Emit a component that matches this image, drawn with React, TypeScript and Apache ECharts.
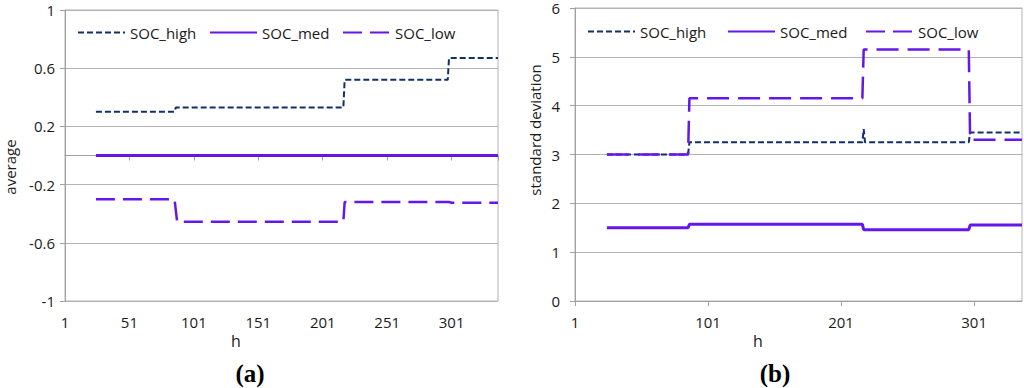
import React, { useEffect, useRef } from "react";
import * as echarts from "echarts";

// Series names (legend)
const seriesNames = ["SOC_high", "SOC_med", "SOC_low"];

// Panel (a): average, points as [h, value]
const avgHigh = [[25, 0.3], [86, 0.3], [87, 0.33], [217, 0.33], [218, 0.52], [298, 0.52], [299, 0.67], [337, 0.67]];
const avgMed = [[25, 0], [337, 0]];
const avgLow = [[25, -0.3], [86, -0.3], [88, -0.455], [217, -0.455], [218, -0.32], [299, -0.32], [301, -0.325], [337, -0.325]];

// Panel (b): standard deviation, points as [h, value]
const sdHigh = [[25, 3.0], [86, 3.0], [87, 3.25], [217, 3.25], [218, 3.52], [219, 3.25], [297, 3.25], [298, 3.45], [337, 3.45]];
const sdMed = [[25, 1.5], [86, 1.5], [87, 1.57], [217, 1.57], [218, 1.46], [297, 1.46], [298, 1.555], [337, 1.555]];
const sdLow = [[25, 3.0], [86, 3.0], [87, 4.15], [217, 4.15], [218, 5.15], [297, 5.15], [298, 3.3], [337, 3.3]];

// Axis ticks
const avgTicks = [-1, -0.6, -0.2, 0.2, 0.6, 1];
const sdTicks = [0, 1, 2, 3, 4, 5, 6];
const hFirst = 1;
const hLast = 337;
const hStepA = 50;
const hStepB = 100;

const FONT = "Open Sans";
const TXT = "#1a1a1a";
const GRID = "#b3b3b3";
const AXIS = "#a0a0a0";
const NAVY = "#132f6b";
const PURPLE = "#6516e8";

const shift = (pts: number[][]) => pts.map(([h, v]) => [h - hFirst, v]);

export default function App() {
  const ref = useRef<HTMLDivElement>(null);
  useEffect(() => {
    if (!ref.current) return;
    const chart = echarts.init(ref.current, undefined, { renderer: "svg" });
    const labelStyle = { fontFamily: FONT, fontSize: 15, color: TXT };
    const xBase = (step: number) => ({
      type: "value" as const,
      position: "bottom" as const,
      min: 0,
      max: hLast - hFirst,
      interval: step,
      splitLine: { show: false },
    });
    const xLabels = { showMaxLabel: false, margin: 13, ...labelStyle, formatter: (v: number) => String(v + hFirst) };
    const yBase = (ticks: number[], margin: number) => ({
      type: "value" as const,
      min: ticks[0],
      max: ticks[ticks.length - 1],
      interval: ticks[1] - ticks[0],
      axisLine: { show: true, onZero: false, lineStyle: { color: AXIS, width: 1 } },
      axisTick: { show: true, length: 5, lineStyle: { color: AXIS } },
      splitLine: { show: true, lineStyle: { color: GRID, width: 1 } },
      axisLabel: {
        margin,
        ...labelStyle,
        formatter: (v: number) => String(Math.round(v * 10) / 10),
      },
    });
    const mkLegend = (name: string, left: number, top: number) => ({
      show: true,
      left,
      top,
      padding: 0,
      data: [name],
      itemWidth: 47,
      itemHeight: 14,
      itemGap: 0,
      selectedMode: false,
      itemStyle: { opacity: 0 },
      textStyle: labelStyle,
    });
    const line = (name: string, data: number[][], xi: number, yi: number, color: string, width: number, type: any) => ({
      name,
      type: "line" as const,
      xAxisIndex: xi,
      yAxisIndex: yi,
      data: shift(data),
      symbol: "none",
      showSymbol: false,
      lineStyle: { color, width, type },
      itemStyle: { color },
      z: name === "SOC_med" ? 3 : 2,
    });
    chart.setOption({
      animation: false,
      backgroundColor: "#ffffff",
      grid: [
        { left: 65, top: 10, width: 433, height: 291, show: true, borderColor: GRID, borderWidth: 1, outerBoundsMode: "none", containLabel: false },
        { left: 575, top: 8, width: 447, height: 293, show: true, borderColor: GRID, borderWidth: 1, outerBoundsMode: "none", containLabel: false },
      ],
      xAxis: [
        // (a) labelled axis at the bottom
        {
          ...xBase(hStepA),
          gridIndex: 0,
          axisLine: { show: false, onZero: false },
          axisTick: { show: false },
          axisLabel: xLabels,
        },
        // (a) axis line with ticks drawn at value 0
        {
          ...xBase(hStepA),
          gridIndex: 0,
          offset: -145.5,
          axisLine: { show: true, onZero: false, lineStyle: { color: AXIS } },
          axisTick: { show: true, length: 5, lineStyle: { color: AXIS } },
          axisLabel: { show: false },
        },
        // (b)
        {
          ...xBase(hStepB),
          gridIndex: 1,
          axisLine: { show: true, onZero: false, lineStyle: { color: AXIS } },
          axisTick: { show: true, length: 5, lineStyle: { color: AXIS } },
          axisLabel: xLabels,
        },
      ],
      yAxis: [
        { ...yBase(avgTicks, 10), gridIndex: 0 },
        { ...yBase(sdTicks, 15), gridIndex: 1 },
      ],
      legend: [
        mkLegend(seriesNames[0], 77, 25),
        mkLegend(seriesNames[1], 209, 25),
        mkLegend(seriesNames[2], 342, 25),
        mkLegend(seriesNames[0], 587, 24),
        mkLegend(seriesNames[1], 727, 24),
        mkLegend(seriesNames[2], 865, 24),
      ],
      series: [
        line(seriesNames[0], avgHigh, 0, 0, NAVY, 2, [6, 3]),
        line(seriesNames[1], avgMed, 0, 0, PURPLE, 3, "solid"),
        line(seriesNames[2], avgLow, 0, 0, PURPLE, 2.5, [19, 8]),
        line(seriesNames[0], sdHigh, 2, 1, NAVY, 2, [6, 3]),
        line(seriesNames[1], sdMed, 2, 1, PURPLE, 3, "solid"),
        line(seriesNames[2], sdLow, 2, 1, PURPLE, 2.5, [22, 9]),
      ],
      graphic: [
        {
          type: "text",
          x: 10,
          y: 167,
          rotation: Math.PI / 2,
          style: { text: "average", fontFamily: FONT, fontSize: 15, fill: TXT, textAlign: "center", textVerticalAlign: "middle" },
        },
        {
          type: "text",
          x: 535,
          y: 130,
          rotation: Math.PI / 2,
          style: { text: "standard deviation", fontFamily: FONT, fontSize: 15, fill: TXT, textAlign: "center", textVerticalAlign: "middle" },
        },
        {
          type: "text",
          x: 236,
          y: 341,
          style: { text: "h", fontFamily: FONT, fontSize: 16, fill: TXT, textAlign: "center", textVerticalAlign: "middle" },
        },
        {
          type: "text",
          x: 758,
          y: 341,
          style: { text: "h", fontFamily: FONT, fontSize: 16, fill: TXT, textAlign: "center", textVerticalAlign: "middle" },
        },
        {
          type: "text",
          x: 250,
          y: 373,
          style: { text: "(a)", fontFamily: "Liberation Serif", fontWeight: "bold", fontSize: 25, fill: "#000", textAlign: "center", textVerticalAlign: "middle" },
        },
        {
          type: "text",
          x: 775,
          y: 373,
          style: { text: "(b)", fontFamily: "Liberation Serif", fontWeight: "bold", fontSize: 25, fill: "#000", textAlign: "center", textVerticalAlign: "middle" },
        },
      ],
    });
    return () => chart.dispose();
  }, []);
  return (
    <div
      ref={ref}
      style={{ position: "absolute", left: 0, top: 0, width: 1024, height: 388, background: "#fff" }}
    />
  );
}
